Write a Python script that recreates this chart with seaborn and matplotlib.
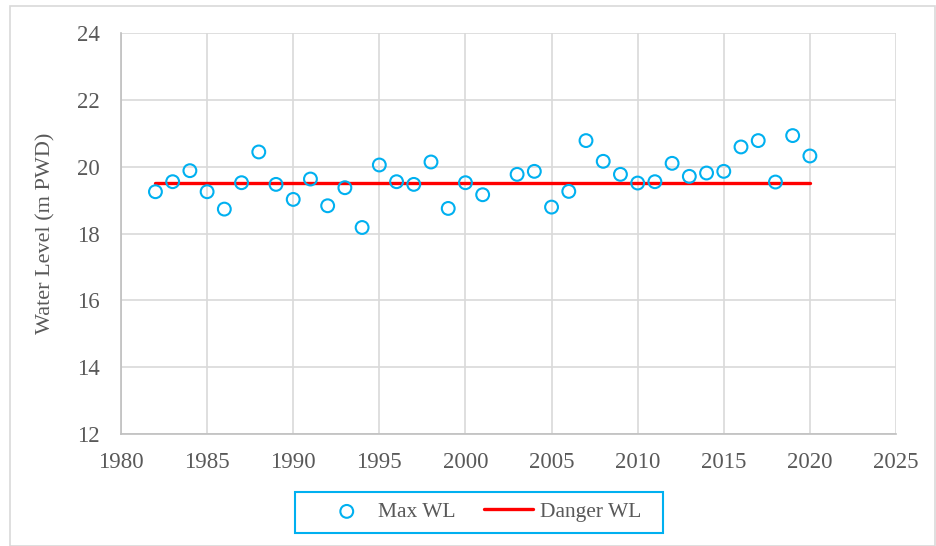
import matplotlib
matplotlib.use("Agg")
import matplotlib.pyplot as plt
import seaborn as sns
import pandas as pd
from matplotlib.patches import Rectangle

# yearly maximum water level (m PWD), 2002 missing
years = [1982, 1983, 1984, 1985, 1986, 1987, 1988, 1989, 1990, 1991,
         1992, 1993, 1994, 1995, 1996, 1997, 1998, 1999, 2000, 2001,
         2003, 2004, 2005, 2006, 2007, 2008, 2009, 2010, 2011, 2012,
         2013, 2014, 2015, 2016, 2017, 2018, 2019, 2020]
max_wl = [19.25, 19.55, 19.88, 19.25, 18.73, 19.52, 20.44, 19.47, 19.02, 19.63,
          18.83, 19.37, 18.18, 20.05, 19.55, 19.47, 20.14, 18.75, 19.52, 19.16,
          19.77, 19.86, 18.79, 19.26, 20.78, 20.16, 19.77, 19.51, 19.55, 20.10,
          19.71, 19.81, 19.86, 20.59, 20.78, 19.54, 20.93, 20.32]
danger_years = [1982, 2020]
danger_wl = [19.5, 19.5]

df = pd.DataFrame({"year": years, "wl": max_wl})
df_d = pd.DataFrame({"year": danger_years, "wl": danger_wl})

sns.set_style("white")
plt.rcParams['font.family'] = ['Liberation Serif', 'DejaVu Serif']
txt = "#595959"

W, H = 937, 546
fig = plt.figure(figsize=(W / 100, H / 100), dpi=100)
ax = fig.add_axes([121/W, 1 - 434/H, (896-121)/W, (434-33)/H])

sns.lineplot(data=df_d, x="year", y="wl", ax=ax, color="#FF0000", linewidth=2.4,
             label="Danger WL", zorder=2)
sns.scatterplot(data=df, x="year", y="wl", ax=ax, marker="o", s=85,
                facecolor="none", edgecolor="#00B0F0", linewidth=1.5,
                label="Max WL", zorder=3)

ax.set_xlim(1980, 2025)
ax.set_ylim(12, 24)
ax.set_xticks(range(1980, 2026, 5))
ax.set_yticks(range(12, 25, 2))
ax.grid(True, color="#D9D9D9", linewidth=1.2)
ax.set_axisbelow(True)
for s in ["top", "right"]:
    ax.spines[s].set_visible(False)
for s in ["left", "bottom"]:
    ax.spines[s].set_color("#BFBFBF")
    ax.spines[s].set_linewidth(1.2)
ax.tick_params(axis="both", length=0, labelsize=16.5, labelcolor=txt)
ax.tick_params(axis="x", pad=13)
ax.tick_params(axis="y", pad=15)
ax.set_xlabel("")
ax.set_ylabel("Water Level (m PWD)", fontsize=16, color=txt, labelpad=16)

h, l = ax.get_legend_handles_labels()
order = [l.index("Max WL"), l.index("Danger WL")]
ax.get_legend().remove()
leg = fig.legend([h[i] for i in order], [l[i] for i in order], loc="center left",
                 bbox_to_anchor=(322 / W, 1 - 512 / H), ncol=2,
                 fontsize=15.5, frameon=False, borderpad=0, borderaxespad=0,
                 handlelength=2.3, handletextpad=0.3, columnspacing=1.3,
                 labelcolor=txt)

# legend frame and outer chart border
fig.patches.append(Rectangle((295/W, 1 - 533/H), 368/W, 41/H, transform=fig.transFigure,
                             fill=False, edgecolor="#00B0F0", linewidth=1.5))
fig.patches.append(Rectangle((10/W, 0), 925/W, 1 - 6/H, transform=fig.transFigure,
                             fill=False, edgecolor="#D9D9D9", linewidth=1.2))

fig.savefig("out.png", dpi=100)
